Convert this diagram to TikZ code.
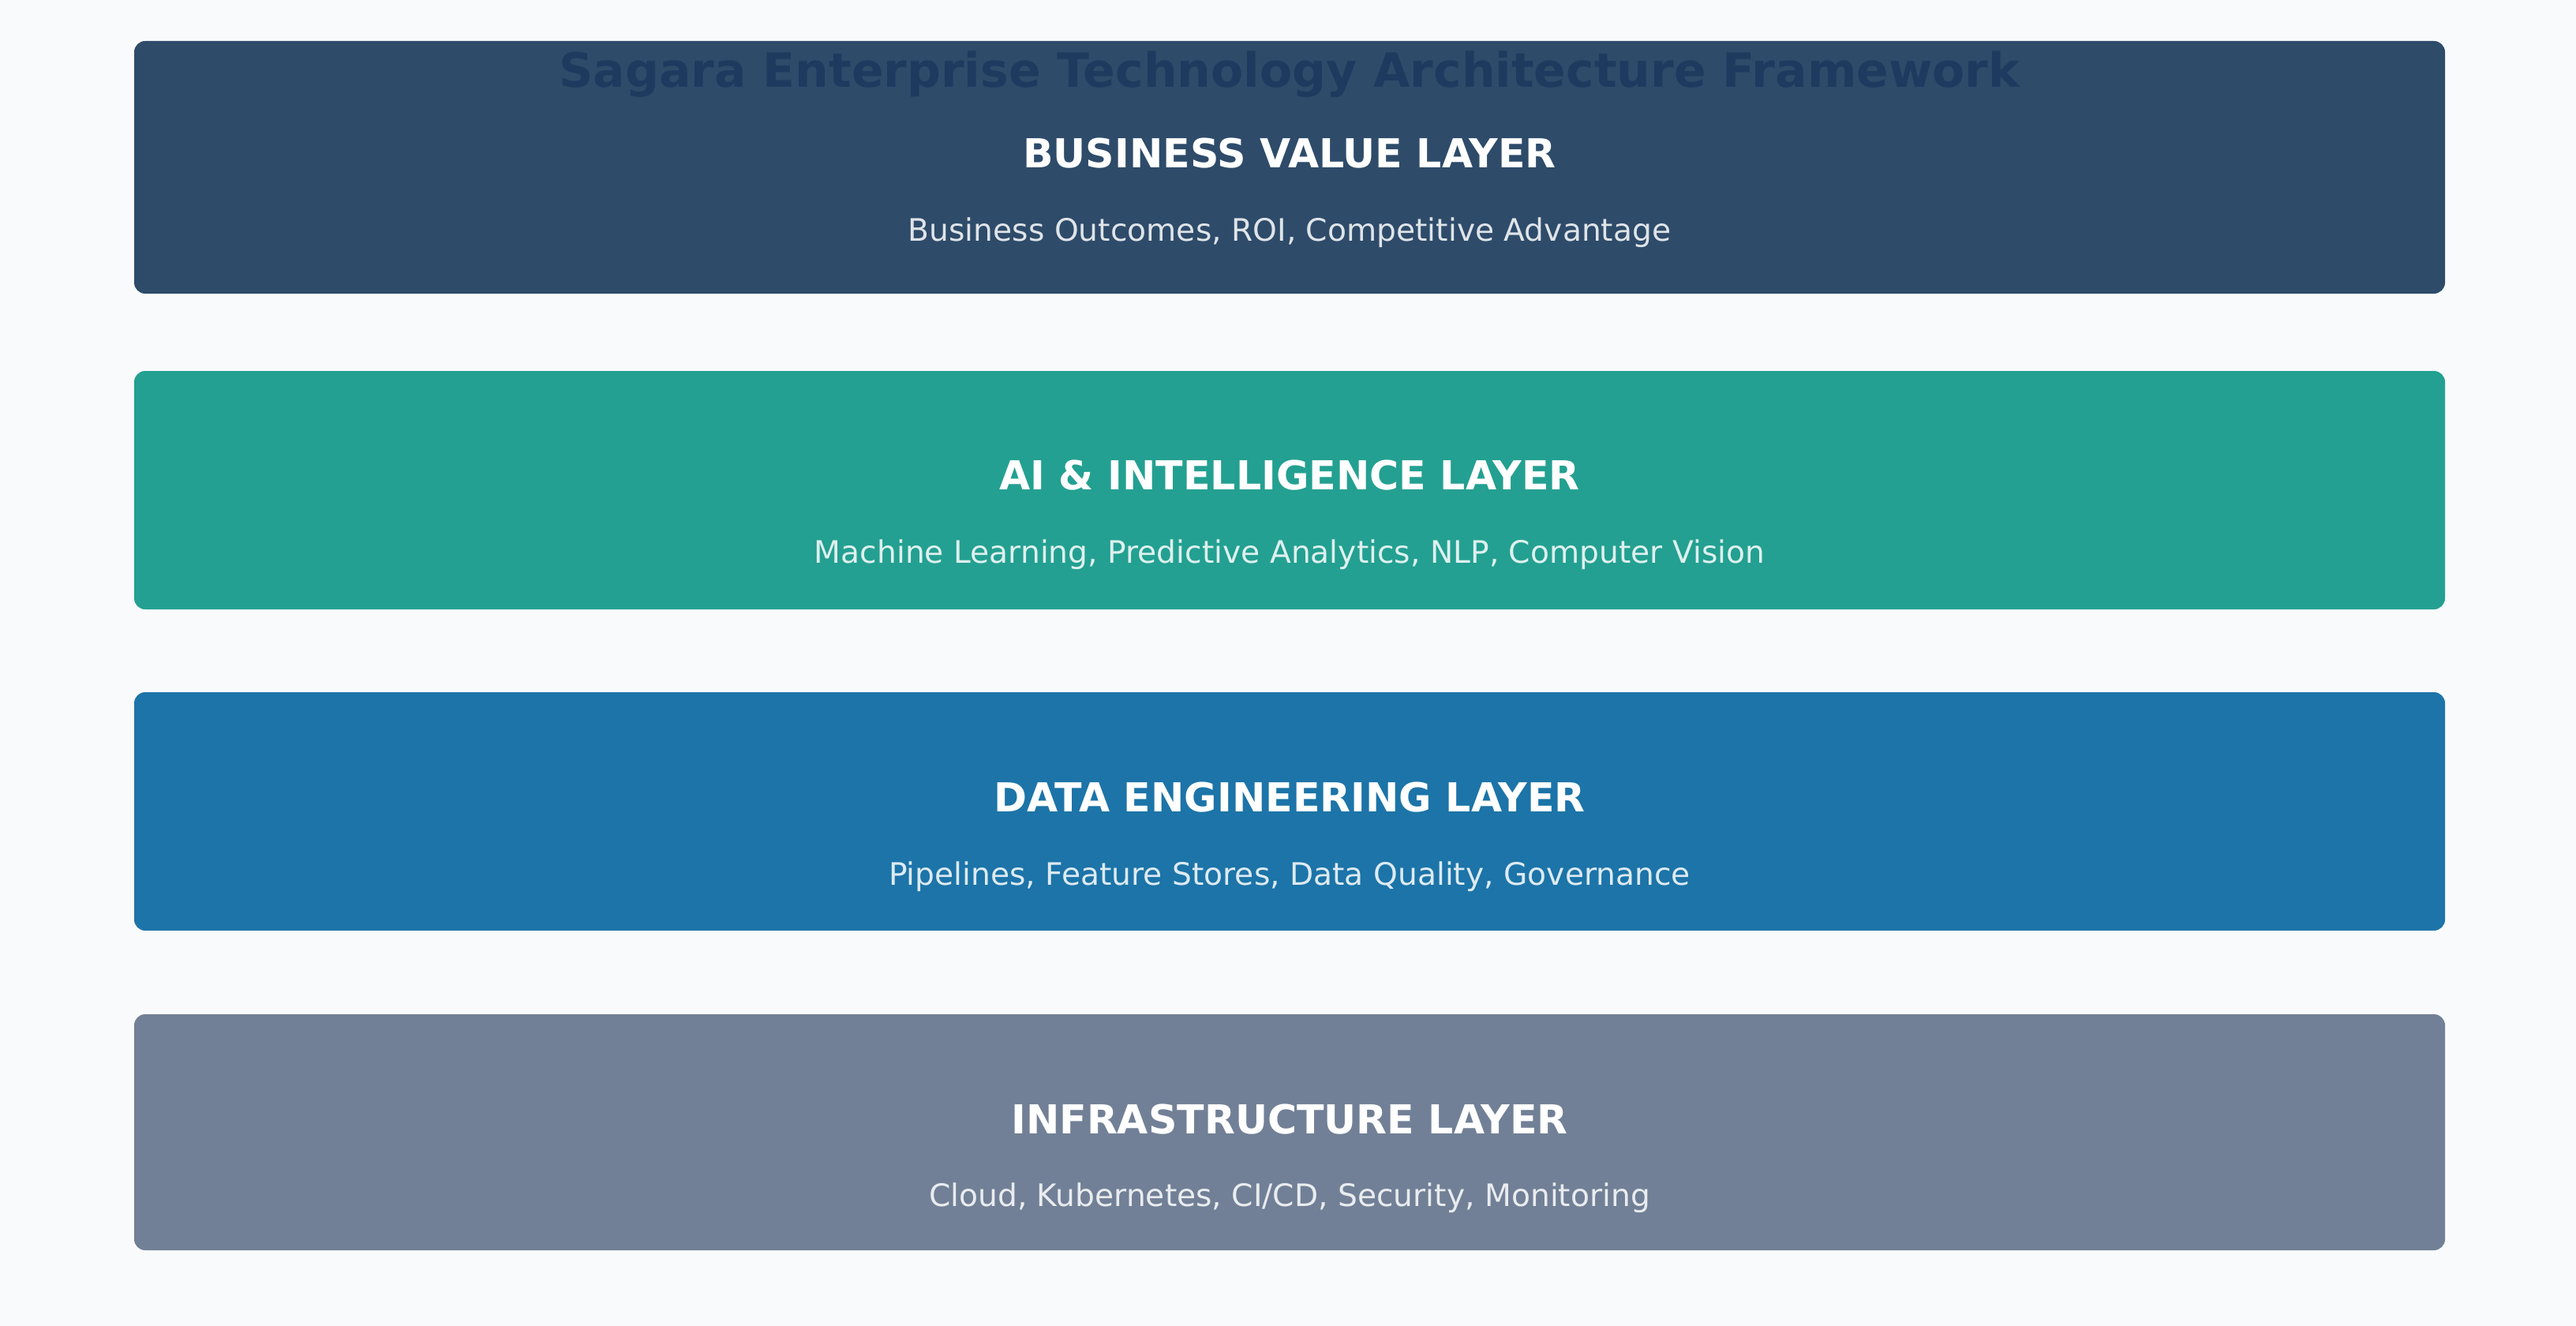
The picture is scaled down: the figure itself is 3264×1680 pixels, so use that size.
\documentclass[tikz,border=0pt]{standalone}
\usepackage{fontspec}
\setmainfont{DejaVu Sans}
\definecolor{bgc}{HTML}{F8FAFC}
\definecolor{bizc}{HTML}{2E4B6A}
\definecolor{aic}{HTML}{23A091}
\definecolor{datac}{HTML}{1C74A8}
\definecolor{infc}{HTML}{718096}
\definecolor{titlec}{HTML}{1E3A5F}
\tikzset{
  layerbox/.style={fill=#1, draw=none, rounded corners=3.5pt},
  layertitle/.style={anchor=base, inner sep=0pt, text=white, font=\fontsize{12.65pt}{15pt}\selectfont\bfseries},
  layersub/.style={anchor=base, inner sep=0pt, text=white, text opacity=0.85, font=\fontsize{9.8pt}{12pt}\selectfont},
  maintitle/.style={anchor=base, inner sep=0pt, text=titlec, font=\fontsize{15pt}{18pt}\selectfont\bfseries}
}
\begin{document}
\begin{tikzpicture}[x=0.25pt, y=-0.25pt]
  \fill[bgc] (0,0) rectangle (3264,1680);
  \useasboundingbox (0,0) rectangle (3264,1680);
  % layer boxes
  \path[layerbox=bizc] (170,52) rectangle (3098,372);
  \path[layerbox=aic] (170,470) rectangle (3098,772);
  \path[layerbox=datac] (170,877) rectangle (3098,1179);
  \path[layerbox=infc] (170,1285) rectangle (3098,1584);
  % title
  \node[maintitle] (title) at (1634,111) {Sagara Enterprise Technology Architecture Framework};
  % layer texts
  \node[layertitle] (biz) at (1634,212) {BUSINESS VALUE LAYER};
  \node[layersub] (bizs) at (1634,305) {Business Outcomes, ROI, Competitive Advantage};
  \node[layertitle] (ai) at (1634,620) {AI \& INTELLIGENCE LAYER};
  \node[layersub] (ais) at (1634,713) {Machine Learning, Predictive Analytics, NLP, Computer Vision};
  \node[layertitle] (data) at (1634,1028) {DATA ENGINEERING LAYER};
  \node[layersub] (datas) at (1634,1121) {Pipelines, Feature Stores, Data Quality, Governance};
  \node[layertitle] (inf) at (1634,1436) {INFRASTRUCTURE LAYER};
  \node[layersub] (infs) at (1634,1528) {Cloud, Kubernetes, CI/CD, Security, Monitoring};
\end{tikzpicture}
\end{document}
